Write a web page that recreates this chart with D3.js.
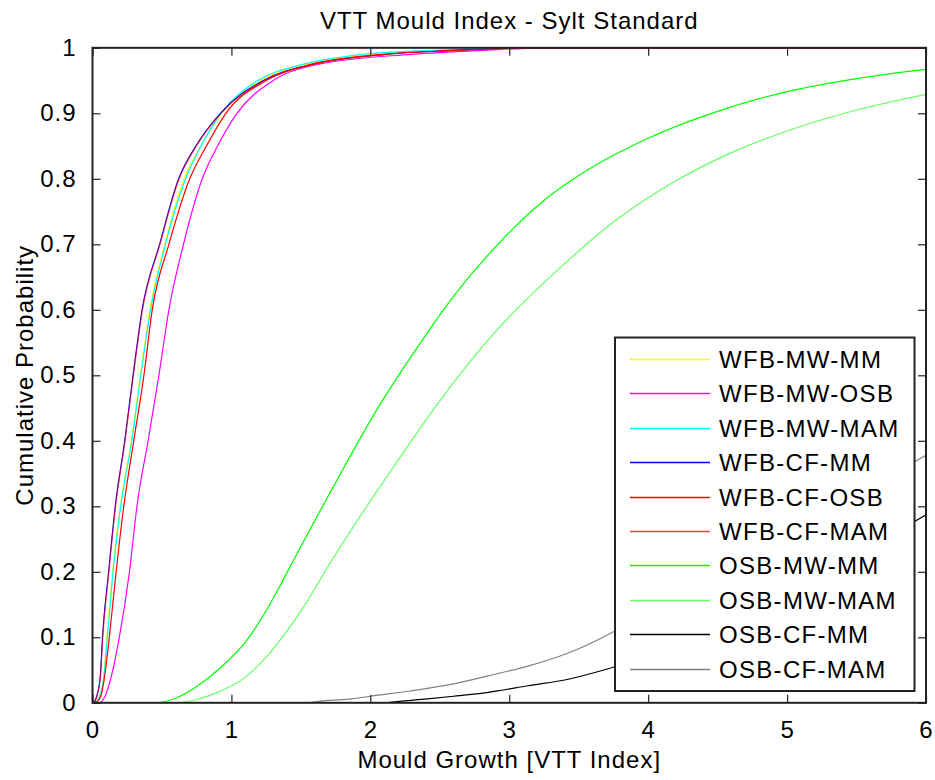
<!DOCTYPE html>
<html>
<head>
<meta charset="utf-8">
<script src="https://cdn.jsdelivr.net/npm/d3@7"></script>
<style>
  body { margin: 0; background: #fff; }
  svg text { font-family: "Liberation Sans", Arial, sans-serif; fill: #000; }
</style>
</head>
<body>
<svg id="chart"></svg>
<script>
// series names in legend order
const seriesNames = ["WFB-MW-MM", "WFB-MW-OSB", "WFB-MW-MAM", "WFB-CF-MM", "WFB-CF-OSB",
    "WFB-CF-MAM", "OSB-MW-MM", "OSB-MW-MAM", "OSB-CF-MM", "OSB-CF-MAM"];

// cumulative probability levels shared by the WFB curves
const wfbLevels = [0, 0, 0.01, 0.04, 0.1, 0.2, 0.3, 0.4, 0.5, 0.6, 0.7, 0.8, 0.85, 0.9, 0.95, 0.975, 0.99, 0.996, 1, 1];
// mould index reached at each level
const wfbMwMm  = [0, 0.012, 0.05, 0.08, 0.104, 0.145, 0.20, 0.28, 0.345, 0.413, 0.52, 0.66, 0.78, 0.93, 1.21, 1.55, 2.0, 2.5, 3.1, 6];
const wfbMwOsb = [0, 0.05, 0.09, 0.135, 0.193, 0.266, 0.32, 0.40, 0.478, 0.55, 0.655, 0.79, 0.90, 1.04, 1.3, 1.63, 2.3, 2.8, 3.3, 6];
const wfbMwMam = [0, 0.012, 0.052, 0.082, 0.107, 0.148, 0.203, 0.283, 0.348, 0.418, 0.525, 0.67, 0.78, 0.925, 1.19, 1.52, 1.95, 2.45, 3.0, 6];
const wfbCfMm  = [0, 0.005, 0.03, 0.056, 0.072, 0.116, 0.164, 0.232, 0.292, 0.357, 0.483, 0.62, 0.744, 0.92, 1.23, 1.59, 2.1, 2.6, 3.2, 6];
const wfbCfOsb = [0, 0.015, 0.06, 0.087, 0.121, 0.17, 0.225, 0.297, 0.37, 0.43, 0.55, 0.70, 0.82, 0.96, 1.25, 1.58, 2.1, 2.6, 3.2, 6];
const wfbCfMam = [0, 0.005, 0.031, 0.057, 0.074, 0.118, 0.166, 0.234, 0.294, 0.36, 0.486, 0.624, 0.748, 0.925, 1.24, 1.6, 2.12, 2.62, 3.2, 6];

// OSB curves, own x / p pairs
const osbMwMmX = [0, 0.45, 0.6, 0.744, 0.913, 1.106, 1.251, 1.348, 1.433, 1.734, 2.048, 2.362, 2.604, 2.918, 3.256, 3.5, 4, 4.5, 5, 5.5, 6];
const osbMwMmP = [0, 0, 0.007, 0.024, 0.052, 0.094, 0.141, 0.178, 0.212, 0.33, 0.448, 0.55, 0.622, 0.70, 0.768, 0.805, 0.862, 0.903, 0.933, 0.953, 0.967];
const osbMwMamX = [0, 0.6, 0.75, 0.913, 1.106, 1.251, 1.348, 1.5, 1.734, 2.121, 2.507, 2.894, 3.365, 3.788, 4.2, 4.6, 5, 5.5, 6];
const osbMwMamP = [0, 0, 0.005, 0.017, 0.04, 0.07, 0.095, 0.14, 0.2215, 0.346, 0.463, 0.565, 0.664, 0.74, 0.797, 0.84, 0.873, 0.905, 0.929];
const osbCfMmX = [0, 2.1, 2.19, 2.41, 2.6, 2.85, 3.135, 3.425, 3.763, 4, 4.5, 5, 5.5, 6];
const osbCfMmP = [0, 0, 0.002, 0.006, 0.01, 0.016, 0.026, 0.036, 0.055, 0.07, 0.113, 0.165, 0.225, 0.287];
const osbCfMamX = [0, 1.55, 1.66, 1.867, 2.0, 2.29, 2.58, 2.846, 3.135, 3.425, 3.618, 3.763, 4, 4.5, 5, 5.5, 6];
const osbCfMamP = [0, 0, 0.003, 0.006, 0.01, 0.018, 0.028, 0.041, 0.056, 0.076, 0.094, 0.11, 0.137, 0.196, 0.257, 0.318, 0.378];

const xTicks = [0, 1, 2, 3, 4, 5, 6];
const yTicks = [0, 0.1, 0.2, 0.3, 0.4, 0.5, 0.6, 0.7, 0.8, 0.9, 1];

const colours = ["#ffff00", "#ff00ff", "#00ffff", "#0000ff", "#ff0000",
    "#ff0000", "#00ff00", "#66ff66", "#000000", "#808080"];
// WFB-CF-MAM sits on top of WFB-CF-MM, the overlap reads purple
const opacities = [1, 1, 1, 1, 1, 0.6, 1, 1, 1, 1];

const zip = (xs, ps) => xs.map((x, i) => ({ x: x, p: ps[i] }));
const series = [
    zip(wfbMwMm, wfbLevels), zip(wfbMwOsb, wfbLevels), zip(wfbMwMam, wfbLevels),
    zip(wfbCfMm, wfbLevels), zip(wfbCfOsb, wfbLevels), zip(wfbCfMam, wfbLevels),
    zip(osbMwMmX, osbMwMmP), zip(osbMwMamX, osbMwMamP),
    zip(osbCfMmX, osbCfMmP), zip(osbCfMamX, osbCfMamP)
];

const width = 935, height = 780;
const margin = { top: 47.8, right: 9, bottom: 77.2, left: 92.5 };
const innerW = width - margin.left - margin.right;
const innerH = height - margin.top - margin.bottom;

const svg = d3.select("#chart").attr("width", width).attr("height", height);

const x = d3.scaleLinear().domain([0, 6]).range([0, innerW]);
const y = d3.scaleLinear().domain([0, 1]).range([innerH, 0]);

const g = svg.append("g").attr("transform", `translate(${margin.left},${margin.top})`);

g.append("clipPath").attr("id", "plot-clip")
    .append("rect").attr("width", innerW).attr("height", innerH);

// curves
const line = d3.line()
    .x(d => x(d.x))
    .y(d => y(d.p))
    .curve(d3.curveMonotoneX);

g.append("g").attr("clip-path", "url(#plot-clip)")
    .selectAll("path")
    .data(series)
    .join("path")
    .attr("fill", "none")
    .attr("stroke", (d, i) => colours[i])
    .attr("stroke-opacity", (d, i) => opacities[i])
    .attr("stroke-width", 1.2)
    .attr("d", line);

// axes, MATLAB style: box with inward ticks on all sides
const tickLen = 8;

const xBottom = g.append("g").attr("transform", `translate(0,${innerH})`)
    .call(d3.axisBottom(x).tickValues(xTicks).tickSizeInner(-tickLen).tickSizeOuter(0).tickPadding(18).tickFormat(d3.format("d")));
const xTop = g.append("g")
    .call(d3.axisTop(x).tickValues(xTicks).tickSizeInner(-tickLen).tickSizeOuter(0).tickFormat(""));
const yLeft = g.append("g")
    .call(d3.axisLeft(y).tickValues(yTicks).tickSizeInner(-tickLen).tickSizeOuter(0).tickPadding(16).tickFormat(d => d === 0 || d === 1 ? d : d3.format(".1f")(d)));
const yRight = g.append("g").attr("transform", `translate(${innerW},0)`)
    .call(d3.axisRight(y).tickValues(yTicks).tickSizeInner(-tickLen).tickSizeOuter(0).tickFormat(""));

[xBottom, xTop, yLeft, yRight].forEach(a => {
    a.select(".domain").remove();
    a.selectAll(".tick line").attr("stroke", "#222").attr("stroke-width", 1.2);
    a.selectAll("text").attr("font-size", "24px").attr("letter-spacing", "1px")
        .attr("font-family", "\"Liberation Sans\", Arial, sans-serif").attr("fill", "#000");
});

g.append("rect")
    .attr("width", innerW).attr("height", innerH)
    .attr("fill", "none").attr("stroke", "#222").attr("stroke-width", 2);

// title and axis labels
svg.append("text")
    .attr("x", margin.left + innerW / 2).attr("y", 29)
    .attr("text-anchor", "middle").attr("font-size", 24).attr("letter-spacing", "1px")
    .text("VTT Mould Index - Sylt Standard");

svg.append("text")
    .attr("x", margin.left + innerW / 2).attr("y", 768)
    .attr("text-anchor", "middle").attr("font-size", 24).attr("letter-spacing", "1px")
    .text("Mould Growth [VTT Index]");

svg.append("text")
    .attr("transform", `translate(33,${margin.top + innerH / 2}) rotate(-90)`)
    .attr("text-anchor", "middle").attr("font-size", 24).attr("letter-spacing", "1px")
    .text("Cumulative Probability");

// legend
const legend = svg.append("g").attr("transform", "translate(615,337.5)");
legend.append("rect")
    .attr("width", 299.5).attr("height", 353.5)
    .attr("fill", "#fff").attr("stroke", "#222").attr("stroke-width", 2);

const rows = legend.selectAll(".row")
    .data(seriesNames)
    .join("g")
    .attr("class", "row")
    .attr("transform", (d, i) => `translate(0,${Math.round(22 + i * 34.4)})`);

rows.append("line")
    .attr("x1", 15).attr("x2", 95)
    .attr("stroke", (d, i) => colours[i])
    .attr("stroke-opacity", (d, i) => i === 5 ? 0.75 : 1)
    .attr("stroke-width", 1.6);

rows.append("text")
    .attr("x", 104).attr("dy", "0.36em")
    .attr("font-size", 24).attr("letter-spacing", "1.3px")
    .text(d => d);
</script>
</body>
</html>
